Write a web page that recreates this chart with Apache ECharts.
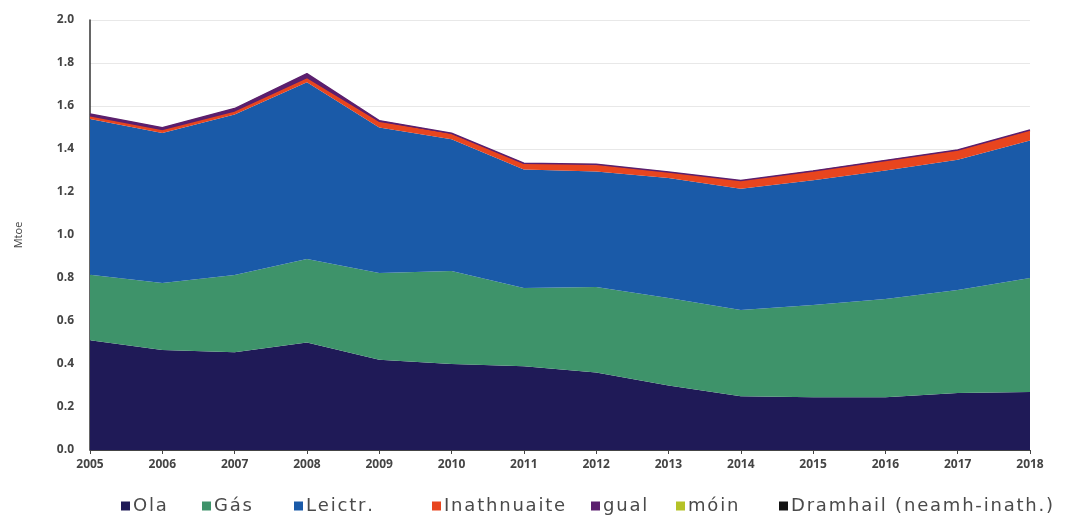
<!DOCTYPE html>
<html>
<head>
<meta charset="utf-8">
<script src="https://cdn.jsdelivr.net/npm/echarts@6/dist/echarts.min.js"></script>
<style>
  html, body { margin: 0; padding: 0; background: #fff; }
  #chart { width: 1074px; height: 521px; }
</style>
</head>
<body>
<div id="chart"></div>
<script>
let years = ['2005', '2006', '2007', '2008', '2009', '2010', '2011', '2012', '2013', '2014', '2015', '2016', '2017', '2018'];

// Mtoe, per fuel (stacked)
let ola = [0.51, 0.465, 0.455, 0.50, 0.42, 0.40, 0.39, 0.36, 0.30, 0.25, 0.245, 0.245, 0.265, 0.27];
let gas = [0.305, 0.312, 0.359, 0.388, 0.403, 0.433, 0.363, 0.398, 0.407, 0.401, 0.429, 0.457, 0.479, 0.53];
let leictr = [0.725, 0.698, 0.746, 0.822, 0.677, 0.612, 0.552, 0.537, 0.558, 0.564, 0.581, 0.598, 0.606, 0.64];
let inathnuaite = [0.008, 0.009, 0.01, 0.015, 0.022, 0.022, 0.025, 0.03, 0.025, 0.035, 0.04, 0.044, 0.042, 0.045];
let gual = [0.015, 0.015, 0.018, 0.025, 0.01, 0.006, 0.004, 0.004, 0.003, 0.003, 0.003, 0.003, 0.003, 0.003];
let moin = [0.001, 0.001, 0.001, 0.001, 0.001, 0.001, 0.001, 0.001, 0.001, 0.001, 0.001, 0.001, 0.001, 0.001];
let dramhail = [0, 0, 0, 0, 0, 0, 0, 0, 0, 0, 0, 0, 0, 0];

let names = ['Ola', 'Gás', 'Leictr.', 'Inathnuaite', 'gual', 'móin', 'Dramhail (neamh-inath.)'];
let colors = ['#1f1a57', '#3e936a', '#1a5aa8', '#e8451e', '#5b1f6e', '#b5c227', '#141414'];
let values = [ola, gas, leictr, inathnuaite, gual, moin, dramhail];
let legendLeft = [121, 202, 294, 432, 591, 676, 779];

let fontFamily = '"Open Sans", "DejaVu Sans", sans-serif';

let series = names.map((name, i) => ({
    name: name,
    type: 'line',
    stack: 'total',
    data: values[i],
    showSymbol: false,
    symbol: 'none',
    smooth: false,
    color: colors[i],
    lineStyle: { width: (i === 3 || i === 4) ? 1.5 : 0, color: colors[i] },
    areaStyle: { color: colors[i], opacity: 1 }
}));

// legend text in the original is slightly spaced out
let spaced = name => name.split('').join('\u200A');

let legends = names.map((name, i) => ({
    data: [name],
    left: legendLeft[i],
    bottom: 6,
    padding: 0,
    icon: 'rect',
    itemWidth: 9,
    itemHeight: 9,
    itemGap: 6,
    formatter: spaced,
    textStyle: { fontSize: 18, color: '#4a4a4a', fontFamily: '"DejaVu Sans", sans-serif', padding: [0, 0, 0, -2] }
}));

let option = {
    animation: false,
    backgroundColor: '#fff',
    legend: legends,
    grid: {
        left: 90,
        right: 44,
        top: 20,
        bottom: 71
    },
    xAxis: {
        type: 'category',
        data: years,
        boundaryGap: false,
        axisLine: { show: true, lineStyle: { color: '#444', width: 1 } },
        axisTick: { show: true, length: 4, lineStyle: { color: '#444' } },
        axisLabel: { color: '#444', fontSize: 12, fontWeight: 'bold', fontFamily: fontFamily, margin: 9 },
        splitLine: { show: false }
    },
    yAxis: {
        type: 'value',
        min: 0,
        max: 2.0,
        interval: 0.2,
        name: 'Mtoe',
        nameLocation: 'middle',
        nameGap: 66,
        nameRotate: 90,
        nameTextStyle: { color: '#444', fontSize: 11, fontFamily: fontFamily },
        axisLine: { show: true, lineStyle: { color: '#333', width: 1.5 } },
        axisTick: { show: false },
        axisLabel: {
            color: '#444', fontSize: 12, fontWeight: 'bold', fontFamily: fontFamily, margin: 16,
            formatter: v => v.toFixed(1)
        },
        splitLine: { show: true, lineStyle: { color: '#e8e8e8', width: 1 } }
    },
    series: series
};

let mychart = echarts.init(document.getElementById('chart'));
mychart.setOption(option);
</script>
</body>
</html>
